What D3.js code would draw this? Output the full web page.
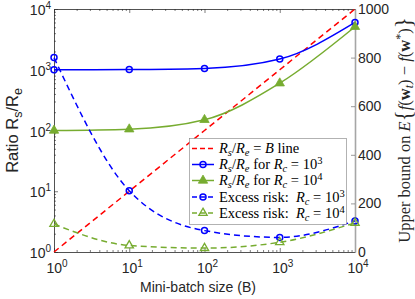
<!DOCTYPE html>
<html><head><meta charset="utf-8">
<script src="https://cdn.jsdelivr.net/npm/d3@7"></script>
<style>body{margin:0;background:#fff}</style>
</head><body>
<svg id="c" width="415" height="299" xmlns="http://www.w3.org/2000/svg"></svg>
<script>
// ---- data ----
const batchSizes = [1, 10, 100, 1000, 10000];
const refLine = [1, 10, 100, 1000, 10000];          // Rs/Re = B
const ratioRc1e3 = [1000, 1005, 1050, 1500, 6000];   // Rs/Re for Rc=10^3
const ratioRc1e4 = [100, 105, 150, 600, 5100];       // Rs/Re for Rc=10^4
const excessRc1e3 = [800, 252, 88, 60, 128];         // excess risk Rc=10^3 (right axis)
const excessRc1e4 = [115, 27, 16, 40, 120];          // excess risk Rc=10^4 (right axis)
const logTickExps = [0, 1, 2, 3, 4];
const rightTicks = [0, 200, 400, 600, 800, 1000];

const W = 415, H = 299;
const L = 54, R = 355, T = 9, B = 252;
const svg = d3.select("#c");
const axisCol = "#262626";
const blue = "#0000ff", green = "#77ac30", red = "#ff0000";

const x = d3.scaleLog().domain([1, 10000]).range([L, R]);
const yL = d3.scaleLog().domain([1, 10000]).range([B, T]);
const yR = d3.scaleLinear().domain([0, 1000]).range([B, T]);

svg.append("rect").attr("x",0).attr("y",0).attr("width",W).attr("height",H).attr("fill","#fff");

// ---- axes ----
function styleAxis(g, col, w) {
  g.select(".domain").attr("stroke", col).attr("stroke-width", w);
  g.selectAll(".tick line").attr("stroke", col).attr("stroke-width", 0.6);
  g.selectAll("text").remove();
}
const minorX = x.ticks();
const minorY = yL.ticks();
const majorVals = logTickExps.map(e => Math.pow(10, e));
function tickLen(v){ return majorVals.some(m => Math.abs(m - v) < 1e-9) ? -4 : -2; }

const gB = svg.append("g").attr("transform", `translate(0,${B})`)
  .call(d3.axisBottom(x).tickValues(minorX).tickSizeInner(-2).tickSizeOuter(0).tickFormat(""));
gB.selectAll(".tick line").attr("y2", d => tickLen(d));
styleAxis(gB, axisCol, 0.8);
const gT = svg.append("g").attr("transform", `translate(0,${T})`)
  .call(d3.axisTop(x).tickValues(minorX).tickSizeInner(-2).tickSizeOuter(0).tickFormat(""));
gT.selectAll(".tick line").attr("y2", d => -tickLen(d));
styleAxis(gT, axisCol, 0.8);
const gLft = svg.append("g").attr("transform", `translate(${L},0)`)
  .call(d3.axisLeft(yL).tickValues(minorY).tickSizeInner(-2).tickSizeOuter(0).tickFormat(""));
gLft.selectAll(".tick line").attr("x2", d => -tickLen(d));
styleAxis(gLft, axisCol, 0.8);
const gRt = svg.append("g").attr("transform", `translate(${R},0)`)
  .call(d3.axisRight(yR).tickValues(rightTicks).tickSizeInner(-4).tickSizeOuter(0).tickFormat(""));
styleAxis(gRt, "#a6a6a6", 1.6);
gRt.selectAll(".tick line").attr("stroke", "#555");

const sans = "'Liberation Sans', Arial, sans-serif";
const serif = "'Liberation Serif', 'Times New Roman', serif";
function pow10Label(parent, px, py, exp, anchor) {
  const t = parent.append("text").attr("x", px).attr("y", py)
    .attr("font-family", sans).attr("font-size", 14).attr("fill", axisCol)
    .attr("text-anchor", anchor);
  t.append("tspan").text("10");
  t.append("tspan").attr("font-size", 10).attr("dy", -6).text(exp);
  return t;
}
logTickExps.forEach(e => {
  pow10Label(svg, x(Math.pow(10, e)) + 3, 273, e, "middle");
  pow10Label(svg, L - 3, yL(Math.pow(10, e)) + 6, e, "end");
});
rightTicks.forEach(v => {
  svg.append("text").attr("x", R + 3).attr("y", yR(v) + 5)
    .attr("font-family", sans).attr("font-size", 14).attr("fill", axisCol).text(v);
});

svg.append("text").attr("x", 198).attr("y", 292).attr("text-anchor", "middle")
  .attr("font-family", sans).attr("font-size", 14).attr("fill", axisCol).text("Mini-batch size (B)");

const yl = svg.append("text").attr("transform", `translate(18,${(T+B)/2}) rotate(-90)`)
  .attr("text-anchor", "middle").attr("font-family", sans).attr("font-size", 16.5).attr("fill", axisCol);
yl.append("tspan").text("Ratio R");
yl.append("tspan").attr("font-size", 12.5).attr("dy", 4).text("s");
yl.append("tspan").attr("dy", -4).text("/R");
yl.append("tspan").attr("font-size", 12.5).attr("dy", 4).text("e");

const yr = svg.append("text").attr("transform", `translate(410,130) rotate(-90)`)
  .attr("text-anchor", "middle").attr("font-family", serif).attr("font-size", 16.5).attr("fill", axisCol);
yr.append("tspan").text("Upper bound on ");
yr.append("tspan").attr("font-style", "italic").text("E");
yr.append("tspan").attr("font-size", 23).attr("dy", 1).text("{");
yr.append("tspan").attr("font-style", "italic").attr("dy", -1).text("f");
yr.append("tspan").text("(");
yr.append("tspan").attr("font-weight", "bold").text("w");
yr.append("tspan").attr("font-style", "italic").attr("font-size", 12).attr("dy", 3).text("t");
yr.append("tspan").attr("dy", -3).text(") \u2212 ");
yr.append("tspan").attr("font-style", "italic").text("f");
yr.append("tspan").text("(");
yr.append("tspan").attr("font-weight", "bold").text("w");
yr.append("tspan").attr("font-size", 12).attr("dy", -6).text("*");
yr.append("tspan").attr("dy", 6).text(")");
yr.append("tspan").attr("font-size", 23).attr("dy", 1).text("}");

// ---- series ----
const plot = svg.append("g");
function series(vals, yScale, col, dashed, curve, marker) {
  const pts = batchSizes.map((b, i) => [x(b), yScale(vals[i])]);
  plot.append("path").attr("d", d3.line().curve(curve)(pts))
    .attr("fill", "none").attr("stroke", col).attr("stroke-width", 1.5)
    .attr("stroke-dasharray", dashed ? "6,4" : null);
  if (marker) pts.forEach(p => drawMarker(plot, p[0], p[1], col, marker));
}
function drawMarker(g, px, py, col, m) {
  if (m === "circle") {
    g.append("circle").attr("cx", px).attr("cy", py).attr("r", 3)
      .attr("fill", "none").attr("stroke", col).attr("stroke-width", 1.5);
  } else {
    const tri = d3.symbol().type(d3.symbolTriangle).size(m === "triFill" ? 38 : 30);
    g.append("path").attr("d", tri()).attr("transform", `translate(${px},${py})`)
      .attr("fill", m === "triFill" ? col : "none").attr("stroke", col).attr("stroke-width", m === "triFill" ? 0.8 : 1.3);
  }
}
const smooth = d3.curveMonotoneX;
series(refLine, yL, red, true, d3.curveLinear, null);
series(ratioRc1e3, yL, blue, false, smooth, "circle");
series(ratioRc1e4, yL, green, false, smooth, "triFill");
series(excessRc1e3, yR, blue, true, smooth, "circle");
series(excessRc1e4, yR, green, true, smooth, "triOpen");

// ---- legend ----
const lg = svg.append("g");
lg.append("rect").attr("x", 189.5).attr("y", 138.5).attr("width", 157).attr("height", 86)
  .attr("fill", "#fff").attr("stroke", "#7f7f7f").attr("stroke-width", 0.6);
const legendItems = [
  {col: red, dash: true, marker: null, parts: [["R","i"],["s","isub"],["/",""],["R","i"],["e","isub"],[" = ","" ],["B","i"],[" line",""]]},
  {col: blue, dash: false, marker: "circle", parts: [["R","i"],["s","isub"],["/",""],["R","i"],["e","isub"],[" for ",""],["R","i"],["c","isub"],[" = 10",""],["3","sup"]]},
  {col: green, dash: false, marker: "triFill", parts: [["R","i"],["s","isub"],["/",""],["R","i"],["e","isub"],[" for ",""],["R","i"],["c","isub"],[" = 10",""],["4","sup"]]},
  {col: blue, dash: true, marker: "circle", parts: [["Excess risk:  ",""],["R","i"],["c","isub"],[" = 10",""],["3","sup"]]},
  {col: green, dash: true, marker: "triOpen", parts: [["Excess risk:  ",""],["R","i"],["c","isub"],[" = 10",""],["4","sup"]]}
];
const rowY = [148.5, 164.5, 180.5, 197, 213];
legendItems.forEach((it, i) => {
  const yy = rowY[i];
  lg.append("line").attr("x1", 192).attr("x2", 214).attr("y1", yy).attr("y2", yy)
    .attr("stroke", it.col).attr("stroke-width", 1.5)
    .attr("stroke-dasharray", it.dash ? "5,3" : null);
  if (it.marker) drawMarker(lg, 203, yy, it.col, it.marker);
  const t = lg.append("text").attr("x", 219).attr("y", yy + 4.5)
    .attr("font-family", serif).attr("font-size", 14.5).attr("fill", "#000")
    .style("white-space", "pre");
  let shift = 0;
  it.parts.forEach(([s, k]) => {
    const ts = t.append("tspan").text(s);
    let target = 0;
    if (k === "i") ts.attr("font-style", "italic");
    if (k === "isub") { ts.attr("font-style", "italic").attr("font-size", 10.5); target = 3; }
    if (k === "sup") { ts.attr("font-size", 10.5); target = -5; }
    ts.attr("dy", target - shift);
    shift = target;
  });
});
</script>
</body></html>
